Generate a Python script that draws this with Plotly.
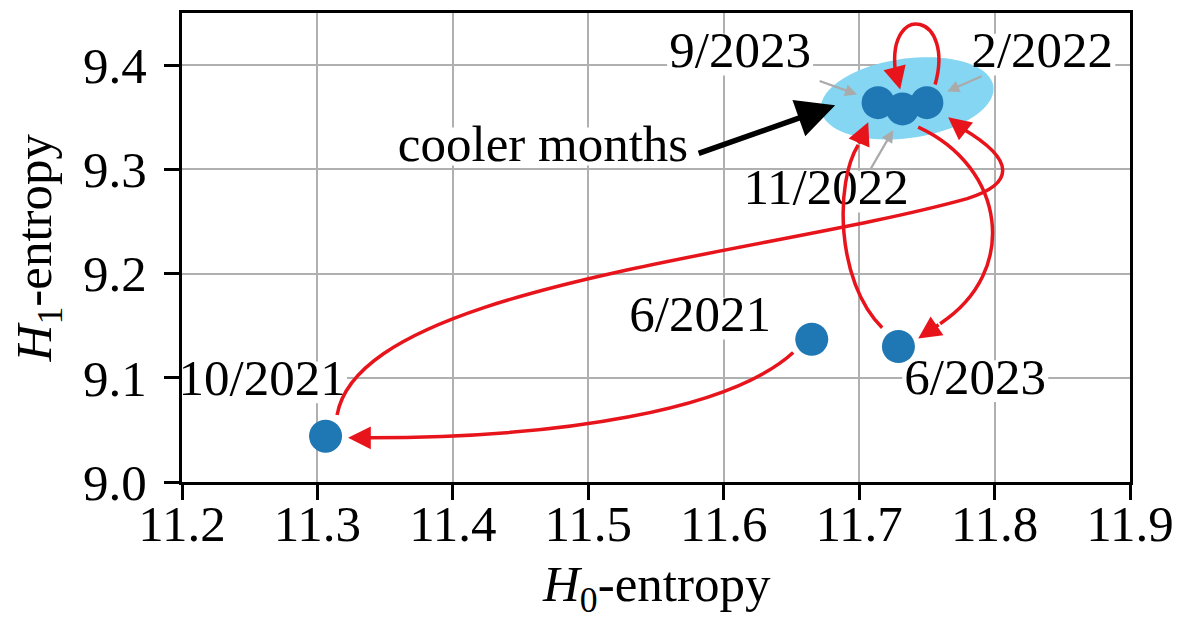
import numpy as np
import plotly.graph_objects as go

# ---------------- data ----------------
months = ["6/2021", "10/2021", "2/2022", "11/2022", "6/2023", "9/2023"]
h0_entropy = [11.665, 11.306, 11.750, 11.732, 11.729, 11.714]
h1_entropy = [9.137, 9.044, 9.364, 9.358, 9.130, 9.364]

# label anchor positions (data units)
label_x = [11.5826, 11.2591, 11.8352, 11.6756, 11.7857, 11.6121]
label_y = [9.1567, 9.0957, 9.41, 9.2786, 9.0967, 9.41]
label_halfwidth_px = [73, 85, 73, 85, 73, 73]

cooler_text = "cooler months"
cooler_xy = (11.4666, 9.3200)

x_ticks = [11.2, 11.3, 11.4, 11.5, 11.6, 11.7, 11.8, 11.9]
y_ticks = [9.0, 9.1, 9.2, 9.3, 9.4]
X_RANGE = [11.2, 11.9]
Y_RANGE = [9.0, 9.45]

# transition curves (cubic Bezier control points, data units) and arrow heads
curves = [
    # 6/2021 -> 10/2021
    [(11.6513, 9.1243), (11.6047, 9.0690), (11.4792, 9.0424), (11.3381, 9.0424)],
    # 10/2021 -> 2/2022
    [(11.3145, 9.0643), (11.3315, 9.1881), (11.6269, 9.2167), (11.7798, 9.2719),
     (11.8152, 9.2862), (11.8152, 9.3090), (11.7768, 9.3386)],
    # 2/2022 -> 11/2022 (loop)
    [(11.7561, 9.3814), (11.7709, 9.4500), (11.7214, 9.4614), (11.7266, 9.3957)],
    # 11/2022 -> 6/2023
    [(11.7436, 9.3405), (11.8078, 9.3024), (11.8189, 9.2024), (11.7598, 9.1519)],
    # 6/2023 -> 9/2023
    [(11.7170, 9.1481), (11.6823, 9.1929), (11.6823, 9.2881), (11.6993, 9.3233)],
]
heads = [  # (tip, base)
    ((11.3226, 9.0424), (11.3381, 9.0424)),
    ((11.7657, 9.3500), (11.7768, 9.3386)),
    ((11.7303, 9.3767), (11.7266, 9.3957)),
    ((11.7436, 9.1376), (11.7598, 9.1519)),
    ((11.7067, 9.3452), (11.6993, 9.3233)),
]
gray_pointers = [  # (tip, tail)
    ((11.6985, 9.3719), (11.6697, 9.3852)),
    ((11.7650, 9.3748), (11.7916, 9.3900)),
    ((11.7251, 9.3376), (11.7081, 9.2995)),
]
black_pointer = ((11.6823, 9.3614), (11.5804, 9.3148))
ellipse_center = (11.7355, 9.3681)

# ---------------- layout constants ----------------
# (the page body adds an 8 px margin on the top/left)
W, H = 1185, 616
ML, MR, MT, MB = 174, 63, 2, 142
PW = W - ML - MR
PH = H - MT - MB
PXX = PW / (X_RANGE[1] - X_RANGE[0])
PXY = PH / (Y_RANGE[1] - Y_RANGE[0])

FONT = "Liberation Serif"
FS = 51
RED = "#e8141c"
BLUE = "#1f77b4"
CYAN = "#84d6f2"

shapes = []

# white label boxes
def add_box(cx, cy, hw, hh=21):
    shapes.append(dict(type="rect", xref="x", yref="y",
                       x0=cx - hw / PXX, x1=cx + hw / PXX,
                       y0=cy - hh / PXY, y1=cy + hh / PXY,
                       fillcolor="white", line=dict(width=0), layer="between"))

for lx, ly, hw in zip(label_x, label_y, label_halfwidth_px):
    add_box(lx, ly, hw)
add_box(cooler_xy[0], cooler_xy[1] + 2 / PXY, 148, 19)

# cluster ellipse
t = np.linspace(0, 2 * np.pi, 90, endpoint=False)
a_px, b_px, ang = 87, 40, np.deg2rad(8)
dx = a_px * np.cos(t) * np.cos(ang) - b_px * np.sin(t) * np.sin(ang)
dy = a_px * np.cos(t) * np.sin(ang) + b_px * np.sin(t) * np.cos(ang)
ex = ellipse_center[0] + dx / PXX
ey = ellipse_center[1] + dy / PXY
path = "M" + " L".join(f"{x:.5f},{y:.5f}" for x, y in zip(ex, ey)) + " Z"
shapes.append(dict(type="path", path=path, xref="x", yref="y", fillcolor=CYAN,
                   line=dict(width=0), layer="between"))

# red curves
for c in curves:
    p = f"M{c[0][0]},{c[0][1]}"
    for i in range(1, len(c), 3):
        p += f" C{c[i][0]},{c[i][1]} {c[i+1][0]},{c[i+1][1]} {c[i+2][0]},{c[i+2][1]}"
    shapes.append(dict(type="path", path=p, xref="x", yref="y",
                       line=dict(color=RED, width=3.5), layer="above"))

annotations = []
for tip, base in heads:
    annotations.append(dict(x=tip[0], y=tip[1], ax=base[0], ay=base[1],
                            xref="x", yref="y", axref="x", ayref="y", text="",
                            showarrow=True, arrowhead=2, arrowsize=1.3,
                            arrowwidth=3.5, arrowcolor=RED, standoff=0))
for tip, tail in gray_pointers:
    annotations.append(dict(x=tip[0], y=tip[1], ax=tail[0], ay=tail[1],
                            xref="x", yref="y", axref="x", ayref="y", text="",
                            showarrow=True, arrowhead=2, arrowsize=1.1,
                            arrowwidth=2.2, arrowcolor="#aaaaaa", standoff=0))
tip, tail = black_pointer
annotations.append(dict(x=tip[0], y=tip[1], ax=tail[0], ay=tail[1],
                        xref="x", yref="y", axref="x", ayref="y", text="",
                        showarrow=True, arrowhead=2, arrowsize=1.4,
                        arrowwidth=5.5, arrowcolor="black", standoff=0))

# axis titles
annotations.append(dict(text="<i>H</i><sub>0</sub>-entropy", xref="paper", yref="paper",
                        x=0.5, y=-0.226, xanchor="center", yanchor="middle",
                        showarrow=False, font=dict(family=FONT, size=FS, color="black")))
annotations.append(dict(text="<i>H</i><sub>1</sub>-entropy", xref="paper", yref="paper",
                        x=-0.152, y=0.5, xanchor="center", yanchor="middle", textangle=-90,
                        showarrow=False, font=dict(family=FONT, size=FS, color="black")))

fig = go.Figure()
fig.add_trace(go.Scatter(x=h0_entropy, y=h1_entropy, mode="markers",
                         marker=dict(size=33, color=BLUE, line=dict(width=0)),
                         showlegend=False, hoverinfo="skip"))
fig.add_trace(go.Scatter(x=label_x + [cooler_xy[0]], y=label_y + [cooler_xy[1]],
                         mode="text", text=months + [cooler_text],
                         textposition="middle center",
                         textfont=dict(family=FONT, size=FS, color="black"),
                         showlegend=False, hoverinfo="skip"))

axis_common = dict(showline=True, linecolor="black", linewidth=3, mirror=True,
                   ticks="outside", ticklen=15, tickwidth=2.5, tickcolor="black",
                   showgrid=True, gridcolor="#b0b0b0", gridwidth=2.2, zeroline=False,
                   tickfont=dict(family=FONT, size=FS, color="black"))

fig.update_layout(
    width=W, height=H, autosize=False,
    margin=dict(l=ML, r=MR, t=MT, b=MB),
    paper_bgcolor="white", plot_bgcolor="white",
    xaxis=dict(range=X_RANGE, tickvals=x_ticks, ticktext=[f"{v:.1f}" for v in x_ticks],
               ticklabelstandoff=-20, **axis_common),
    yaxis=dict(range=Y_RANGE, tickvals=y_ticks, ticktext=[f"{v:.1f}" for v in y_ticks],
               ticklabelstandoff=7, **axis_common),
    shapes=shapes,
    annotations=annotations,
)

fig.write_html("out.html")
